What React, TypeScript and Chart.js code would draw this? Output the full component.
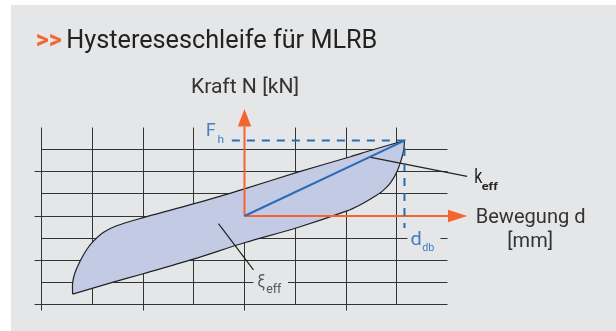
import React, { useEffect, useRef } from "react";
import { Chart, registerables } from "chart.js";

Chart.register(...registerables);

// ---------- data (grid units: x = displacement d, y = force N) ----------
const upperX = [-3.387, -3.387, -3.342, -3.243, -3.111, -2.981, -2.783, -2.519, -1.994, -1.401, -0.677, 0.014, 1.034, 2.087, 2.481, 3.152];
const upperY = [-3.529, -3.032, -2.579, -2.054, -1.525, -1.149, -0.742, -0.439, -0.07, 0.3, 0.76, 1.24, 1.97, 2.68, 2.96, 3.407];
const lowerX = [3.152, 3.139, 3.093, 3.008, 2.876, 2.712, 2.515, 2.284, 2.021, 1.034, 0.014, -1.007, -1.994, -2.586, -3.387];
const lowerY = [3.407, 2.998, 2.575, 2.018, 1.493, 1.113, 0.814, 0.511, 0.23, -0.53, -1.2, -1.95, -2.61, -2.99, -3.529];

const dDb = 3.152; // peak displacement d_db
const fH = 3.407; // peak force F_h
const fhDashStart = -0.249;
const ddbDashEnd = -0.54;

const axisMin = -4;
const axisMax = 4;
const xArrowBase = 4.01;
const xArrowTip = 4.39;
const yArrowBase = 4.05;
const yArrowTip = 4.84;

const kLeaderX = [2.465, 4.386];
const kLeaderY = [2.465 * (fH / dDb), 1.79];
const xiLeaderX = [-0.513, 0.177];
const xiLeaderY = [-0.348, -2.43];

const titleMark = ">>";
const titleText = "Hystereseschleife für MLRB";
const yAxisLabel = "Kraft N [kN]";
const xAxisLabel1 = "Bewegung d";
const xAxisLabel2 = "[mm]";

// ---------- styles ----------
const BG = "#e5e6e8";
const ORANGE = "#f26430";
const BLUE = "#2a6bb7";
const BLUE_TEXT = "#3f7fc4";
const GRID = "#333333";
const FONT = 'Roboto, "Open Sans", sans-serif';

function pts(xs: number[], ys: number[]) {
  return xs.map((x, i) => ({ x, y: ys[i] }));
}

function fitText(
  ctx: CanvasRenderingContext2D,
  text: string,
  x: number,
  y: number,
  size: number,
  width: number,
  color: string,
  weight = "400"
) {
  ctx.save();
  ctx.font = `${weight} ${size}px ${FONT}`;
  ctx.textAlign = "left";
  ctx.textBaseline = "alphabetic";
  const m = ctx.measureText(text);
  const ink = m.actualBoundingBoxRight + m.actualBoundingBoxLeft;
  const s = ink > 0 ? width / ink : 1;
  ctx.translate(x + m.actualBoundingBoxLeft * s, y);
  ctx.scale(s, 1);
  ctx.fillStyle = color;
  ctx.fillText(text, 0, 0);
  ctx.restore();
}

const overlayPlugin = {
  id: "overlay",
  afterDraw(chart: any) {
    const ctx: CanvasRenderingContext2D = chart.ctx;
    const xs = chart.scales.x;
    const ys = chart.scales.y;
    const px = (v: number) => xs.getPixelForValue(v);
    const py = (v: number) => ys.getPixelForValue(v);

    // arrow heads
    ctx.save();
    ctx.fillStyle = ORANGE;
    const ox = px(0);
    const oy = py(0);
    ctx.beginPath();
    ctx.moveTo(ox, py(yArrowTip));
    ctx.lineTo(ox - 6.7, py(yArrowBase));
    ctx.lineTo(ox + 6.7, py(yArrowBase));
    ctx.closePath();
    ctx.fill();
    ctx.beginPath();
    ctx.moveTo(px(xArrowTip), oy);
    ctx.lineTo(px(xArrowBase), oy - 6.2);
    ctx.lineTo(px(xArrowBase), oy + 6.2);
    ctx.closePath();
    ctx.fill();
    ctx.restore();

    // label backgrounds (break grid lines)
    const ddx = px(dDb);
    const ddy = py(-1);
    ctx.fillStyle = BG;
    ctx.fillRect(ddx + 3, ddy - 8, 33, 18);
    const xiy = py(-3);
    ctx.fillRect(ox + 9, xiy - 10, 34.5, 18);

    // title
    fitText(ctx, titleMark, 36.7, 48.3, 25, 25.3, ORANGE, "700");
    fitText(ctx, titleText, 68.3, 48.3, 25, 308.4, "#222222");

    // axis labels
    fitText(ctx, yAxisLabel, ox - 52.6, 93.3, 21, 105.6, "#333333");
    fitText(ctx, xAxisLabel1, 476.7, oy + 6.5, 20, 107.6, "#333333");
    fitText(ctx, xAxisLabel2, 508.3, oy + 30.5, 20, 43.4, "#333333");

    // F_h
    const fy = py(fH);
    fitText(ctx, "F", ox - 37.6, fy - 4.2, 19, 8.3, BLUE_TEXT);
    fitText(ctx, "h", ox - 27, fy + 2.4, 10, 6, BLUE_TEXT);

    // d_db
    fitText(ctx, "d", ddx + 6, ddy + 6.6, 18, 10, BLUE_TEXT);
    fitText(ctx, "db", ddx + 17.7, ddy + 13.3, 10, 12.6, BLUE_TEXT);

    // k_eff
    fitText(ctx, "k", 475, 183.3, 20, 8, "#222222");
    fitText(ctx, "eff", 481.7, 190, 10, 16.6, "#222222", "700");

    // xi_eff
    fitText(ctx, "ξ", ox + 13, xiy + 5, 18, 7.7, "#555555");
    fitText(ctx, "eff", ox + 21.7, xiy + 10.4, 13, 15.7, "#555555");
  },
};

export default function App() {
  const ref = useRef<HTMLCanvasElement | null>(null);

  useEffect(() => {
    if (!ref.current) return;
    const loop = [...pts(upperX, upperY), ...pts(lowerX, lowerY)];
    const gridColor = (c: any) =>
      c.tick && c.tick.value === axisMax ? "rgba(0,0,0,0)" : GRID;
    const tickColor = (c: any) =>
      c.tick && c.tick.value !== axisMax && Math.abs(c.tick.value) % 2 === 0
        ? GRID
        : "rgba(0,0,0,0)";

    const chart = new Chart(ref.current, {
      type: "scatter",
      data: {
        datasets: [
          {
            data: [
              { x: 0, y: 0 },
              { x: dDb, y: fH },
            ],
            showLine: true,
            borderColor: BLUE,
            borderWidth: 2,
            pointRadius: 0,
          },
          {
            data: [
              { x: fhDashStart, y: fH },
              { x: dDb, y: fH },
              { x: dDb, y: ddbDashEnd },
            ],
            showLine: true,
            borderColor: BLUE,
            borderWidth: 2,
            borderDash: [8, 7],
            pointRadius: 0,
            clip: false,
          },
          {
            data: [
              { x: 0, y: 0 },
              { x: xArrowBase, y: 0 },
            ],
            showLine: true,
            borderColor: ORANGE,
            borderWidth: 2,
            pointRadius: 0,
            clip: false,
          },
          {
            data: [
              { x: 0, y: 0 },
              { x: 0, y: yArrowBase },
            ],
            showLine: true,
            borderColor: ORANGE,
            borderWidth: 2,
            pointRadius: 0,
            clip: false,
          },
          {
            data: pts(kLeaderX, kLeaderY),
            showLine: true,
            borderColor: "#222222",
            borderWidth: 1.2,
            pointRadius: 0,
            clip: false,
          },
          {
            data: pts(xiLeaderX, xiLeaderY),
            showLine: true,
            borderColor: "#222222",
            borderWidth: 1.2,
            pointRadius: 0,
          },
          {
            data: loop,
            showLine: true,
            borderColor: "#222222",
            borderWidth: 1.2,
            backgroundColor: "#c3cae4",
            fill: "shape",
            tension: 0.3,
            pointRadius: 0,
          },
        ],
      },
      options: {
        responsive: false,
        animation: false,
        events: [],
        layout: { padding: { left: 41.5, right: 168.5, top: 127.5, bottom: 26.5 } },
        plugins: {
          legend: { display: false },
          tooltip: { enabled: false },
          title: { display: false },
        },
        scales: {
          x: {
            type: "linear",
            position: "bottom",
            min: axisMin,
            max: axisMax,
            afterFit: (s: any) => {
              s.height = 0;
            },
            border: { display: false },
            ticks: { display: false, stepSize: 1 },
            grid: {
              color: gridColor,
              lineWidth: 1,
              drawTicks: true,
              tickLength: 6,
              tickColor: tickColor,
            },
          },
          y: {
            type: "linear",
            position: "left",
            min: axisMin,
            max: axisMax,
            afterFit: (s: any) => {
              s.width = 0;
            },
            border: { display: false },
            ticks: { display: false, stepSize: 1 },
            grid: {
              color: gridColor,
              lineWidth: 1,
              drawTicks: true,
              tickLength: 7,
              tickColor: tickColor,
            },
          },
        },
      } as any,
      plugins: [overlayPlugin],
    });
    return () => chart.destroy();
  }, []);

  return (
    <div
      style={{
        position: "absolute",
        left: 0,
        top: 0,
        width: 616,
        height: 331,
        background: "#ffffff",
        overflow: "hidden",
      }}
    >
      <div
        style={{
          position: "absolute",
          left: 11,
          top: 5,
          width: 605,
          height: 326,
          background: BG,
        }}
      />
      <canvas
        ref={ref}
        width={616}
        height={331}
        style={{ position: "absolute", left: 0, top: 0, width: 616, height: 331 }}
      />
    </div>
  );
}
